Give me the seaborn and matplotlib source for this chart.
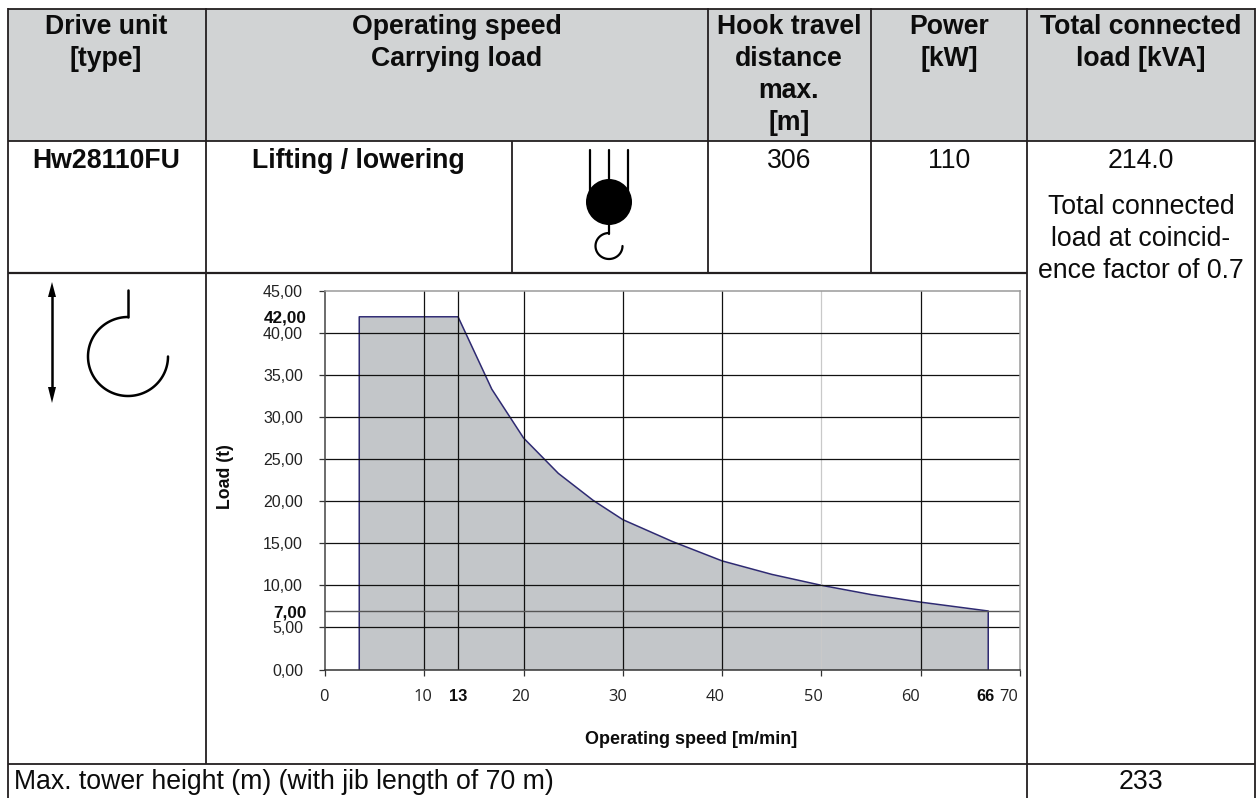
import numpy as np
import pandas as pd
import matplotlib
matplotlib.use("Agg")
import matplotlib.pyplot as plt
from matplotlib.transforms import ScaledTranslation
from matplotlib.patches import Ellipse, Rectangle, Polygon
import seaborn as sns

# ---- data ----
speed = [3.45, 3.45, 13.4, 16.8, 20.0, 23.5, 27.0, 30.0, 35.0, 40.0, 45.0, 50.0, 55.0, 60.0, 66.8, 66.8]
load = [0.0, 41.9, 41.9, 33.3, 27.5, 23.3, 20.1, 17.8, 15.2, 12.9, 11.3, 10.0, 8.9, 8.0, 6.95, 0.0]
x_ticks = [0, 10, 20, 30, 40, 50, 60, 70]
x_tick_shift = [-1, -1, -3, -5, -7, -8, -10, -11]
x_bold_ticks = [13.4, 66.8]
x_bold_labels = ["13", "66"]
x_bold_shift = [0, -3]
y_ticks = [0, 5, 10, 15, 20, 25, 30, 35, 40, 45]
y_labels = ["0,00", "5,00", "10,00", "15,00", "20,00", "25,00", "30,00", "35,00", "40,00", "45,00"]
y_bold_ticks = [6.9, 41.9]
y_bold_labels = ["7,00", "42,00"]
x_title = "Operating speed [m/min]"
y_title = "Load (t)"
header_cells = [
    (106, ["Drive unit", "[type]"]),
    (457, ["Operating speed", "Carrying load"]),
    (789, ["Hook travel", "distance", "max.", "[m]"]),
    (949, ["Power", "[kW]"]),
    (1141, ["Total connected", "load [kVA]"]),
]
bold_cells = [(106, 161, "Hw28110FU"), (358, 161, "Lifting / lowering")]
plain_cells = [
    (789, 161, "306"), (949, 161, "110"), (1141, 161, "214.0"),
    (1141, 207, "Total connected"), (1141, 239, "load at coincid-"),
    (1141, 271, "ence factor of 0.7"), (1141, 782, "233"),
]
footer_text = "Max. tower height (m) (with jib length of 70 m)"

# ---- style ----
W, H = 1256, 798
sns.set_theme(style="white")
plt.rcParams["font.family"] = ["Liberation Sans", "DejaVu Sans"]
fig = plt.figure(figsize=(W / 100, H / 100), dpi=100, facecolor="white")
BLACK = "#0c0c0c"
NAVY = "#2e2a72"
CELL_PT = 19.2

# ---- page overlay in pixel coordinates: table and pictograms ----
pg = fig.add_axes([0, 0, 1, 1], zorder=0)
pg.set_xlim(0, W)
pg.set_ylim(H, 0)
pg.axis("off")
pg.add_patch(Rectangle((8, 8.5), 1246.5, 132.5, fc="#d1d3d4", ec="none"))


def rule(x0, y0, x1, y1, lw=1.3):
    pg.plot([x0, x1], [y0, y1], color="#231f20", lw=lw, solid_capstyle="butt")


rule(8, 8.5, 1255, 8.5)
rule(8, 141, 1255, 141)
rule(8, 272.5, 1027, 272.5, 1.6)
rule(8, 764, 1255, 764)
rule(8, 8, 8, H)
rule(1254.5, 8, 1254.5, H)
rule(206, 8, 206, 764)
rule(1027, 8, 1027, H)
rule(707.5, 8, 707.5, 272.5)
rule(871, 8, 871, 272.5)
rule(511.5, 141, 511.5, 272.5)

for cx, lines in header_cells:
    for i, t in enumerate(lines):
        pg.text(cx, 27 + 32 * i, t, ha="center", va="center", fontsize=CELL_PT,
                fontweight="bold", color=BLACK)
for cx, cy, t in bold_cells:
    pg.text(cx, cy, t, ha="center", va="center", fontsize=CELL_PT, fontweight="bold", color=BLACK)
for cx, cy, t in plain_cells:
    pg.text(cx, cy, t, ha="center", va="center", fontsize=CELL_PT, color=BLACK)
pg.text(14, 782, footer_text, ha="left", va="center", fontsize=CELL_PT, color=BLACK)

# small block-and-hook pictogram
for lx in (590, 609, 628):
    pg.plot([lx, lx], [150, 200], color="black", lw=1.6)
pg.add_patch(Ellipse((609, 202), 46, 46, fc="black", ec="none", zorder=3))
pg.plot([609, 609], [222, 234], color="black", lw=1.6)
t = np.radians(np.linspace(90, 360, 60))
pg.plot(609 + 13.5 * np.cos(t), 246 - 13 * np.sin(t), color="black", lw=1.6)

# large hook pictogram with double arrow
pg.plot([52, 52], [292, 392], color="black", lw=1.8)
pg.add_patch(Polygon([[52, 282], [48, 297], [56, 297]], fc="black", ec="none"))
pg.add_patch(Polygon([[52, 403], [48, 387], [56, 387]], fc="black", ec="none"))
pg.plot([127.5, 127.5], [290, 317], color="black", lw=1.8)
t = np.radians(np.linspace(90, 360, 120))
pg.plot(128 + 40 * np.cos(t), 356.5 - 39.5 * np.sin(t), color="black", lw=1.8)

# ---- chart ----
ax = fig.add_axes([325 / W, 1 - 669.5 / H, (1020 - 325) / W, (669.5 - 290.7) / H], zorder=1)
ax.patch.set_alpha(0)
df = pd.DataFrame({"speed": speed, "load": load})
ax.fill_between(df["speed"], df["load"], 0, color="#c3c6c9", lw=0, zorder=1)
sns.lineplot(data=df, x="speed", y="load", sort=False, estimator=None, color=NAVY,
             lw=1.1, ax=ax, zorder=2.5)
ax.set_xlim(0, 70)
ax.set_ylim(0, 45)
ax.set_xlabel("")
ax.set_ylabel("")

ax.set_xticks(x_ticks)
ax.set_xticklabels([str(v) for v in x_ticks], fontfamily="Open Sans", fontsize=11.8, color="#222222")
ax.set_xticks(x_bold_ticks, minor=True)
ax.set_xticklabels(x_bold_labels, minor=True, fontweight="bold", fontsize=11.8, color=BLACK)
ax.set_yticks(y_ticks)
ax.set_yticklabels(y_labels, fontsize=11.5, color="#222222")
ax.set_yticks(y_bold_ticks, minor=True)
ax.set_yticklabels(y_bold_labels, minor=True, fontweight="bold", fontsize=12.3, color=BLACK)

ax.tick_params(axis="x", which="major", direction="out", bottom=True, length=4.3, width=0.9,
               pad=10, color="#333333")
ax.tick_params(axis="x", which="minor", direction="out", bottom=True, length=0, pad=13.8)
ax.tick_params(axis="y", which="major", direction="out", left=True, length=4.3, width=0.9,
               pad=11.5, color="#333333")
ax.tick_params(axis="y", which="minor", direction="out", left=True, length=0, pad=13)
fig.canvas.draw()
for tick, shift in zip(ax.xaxis.get_major_ticks(), x_tick_shift):
    tick.label1.set_transform(tick.label1.get_transform() + ScaledTranslation(shift / 100, 0, fig.dpi_scale_trans))
for tick, shift in zip(ax.xaxis.get_minor_ticks(), x_bold_shift):
    tick.label1.set_transform(tick.label1.get_transform() + ScaledTranslation(shift / 100, 0, fig.dpi_scale_trans))

# grid (drawn over the filled area)
for v in x_ticks[1:-1]:
    ax.axvline(v, color="#c9c9c9" if v == 50 else "#111111", lw=0.9, zorder=3)
ax.axvline(x_bold_ticks[0], color="#111111", lw=0.9, zorder=3)
for v in y_ticks[1:-1]:
    ax.axhline(v, color="#111111", lw=0.9, zorder=3)
ax.axhline(y_bold_ticks[0], color="#555555", lw=1.0, zorder=3)

for side, col in {"top": "#9a9a9a", "right": "#9a9a9a", "left": "#444444", "bottom": "#333333"}.items():
    ax.spines[side].set_visible(True)
    ax.spines[side].set_color(col)
    ax.spines[side].set_linewidth(1.1)
    ax.spines[side].set_zorder(4)

pg.text(691, 739, x_title, ha="center", va="center", fontsize=13, fontweight="bold", color=BLACK)
pg.text(226, 477, y_title, ha="center", va="center", rotation=90, fontsize=12.7,
        fontweight="bold", color=BLACK)

fig.savefig("out.png", dpi=100)
